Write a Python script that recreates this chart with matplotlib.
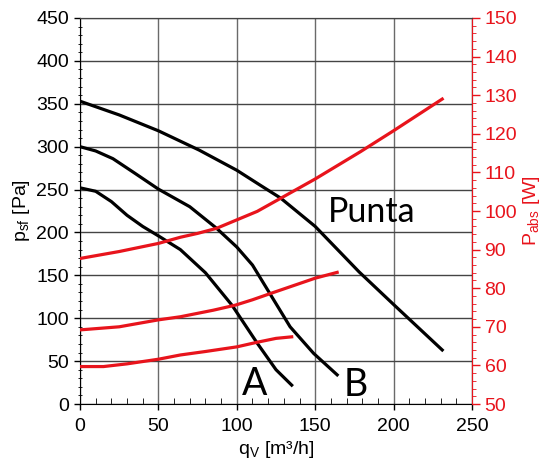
import matplotlib
matplotlib.use("Agg")
import matplotlib.pyplot as plt
from matplotlib.ticker import MultipleLocator

plt.rcParams['font.family'] = ['Liberation Sans', 'DejaVu Sans']

# Pressure curves (left axis, Pa)
q_A = [0, 10, 20, 30, 40, 50, 64, 80, 97, 113, 125, 135]
p_A = [252, 248, 236, 220, 207, 196, 180, 153, 115, 71, 40, 22]
q_B = [0, 10, 21, 35, 50, 70, 87, 100, 110, 121, 134, 149, 164]
p_B = [300, 295, 286, 269, 250.5, 230, 205, 183, 162, 129, 90, 59, 34]
q_P = [0, 25, 50, 76, 100, 115, 128, 150, 178, 200, 231]
p_P = [353, 337, 318.5, 296, 272.5, 255, 240, 207, 154, 116, 63]

# Power curves (right axis, W)
qw_P = [0, 25, 50, 64, 75, 87, 100, 113, 128, 150, 179, 200, 231]
w_P = [87.7, 89.5, 91.6, 93.2, 94.2, 95.5, 97.7, 99.9, 103.3, 108.3, 115.4, 120.8, 129]
qw_B = [0, 25, 50, 64, 85, 99, 110, 122, 150, 164]
w_B = [69.2, 70, 71.8, 72.6, 74.3, 75.6, 77, 78.7, 82.6, 84.1]
qw_A = [0, 15, 30, 50, 64, 80, 100, 113, 125, 135]
w_A = [59.7, 59.7, 60.4, 61.6, 62.7, 63.6, 64.8, 66, 67, 67.4]

labels = ["A", "B", "Punta"]
label_pos = [(111.3, 10.5), (175.7, 9.7), (186, 212)]
red = '#e8141c'

fig = plt.figure(figsize=(5.44, 4.61), dpi=100)
ax = fig.add_axes([80/544, 57/461, 392/544, 386/461])
ax2 = ax.twinx()

for q, p in [(q_A, p_A), (q_B, p_B), (q_P, p_P)]:
    ax.plot(q, p, color='black', lw=2.3, zorder=3, solid_joinstyle='round')
for q, w in [(qw_A, w_A), (qw_B, w_B), (qw_P, w_P)]:
    ax2.plot(q, w, color=red, lw=2.3, zorder=3, solid_joinstyle='round')

ax.set_xlim(0, 250)
ax.set_ylim(0, 450)
ax2.set_ylim(50, 150)

ax.xaxis.set_major_locator(MultipleLocator(50))
ax.xaxis.set_minor_locator(MultipleLocator(10))
ax.yaxis.set_major_locator(MultipleLocator(50))
ax.yaxis.set_minor_locator(MultipleLocator(10))
ax2.yaxis.set_major_locator(MultipleLocator(10))
ax2.yaxis.set_minor_locator(MultipleLocator(2))

ax.grid(True, which='major', axis='y', color='#444444', lw=1)
ax.grid(True, which='major', axis='x', color='#6a6a6a', lw=1)
ax.set_axisbelow(True)

ax.tick_params(axis='x', which='major', labelsize=14, length=4, direction='out', width=1, pad=6)
ax.tick_params(axis='y', which='major', labelsize=14, length=4, direction='out', width=1, pad=4)
ax.tick_params(axis='x', which='minor', length=4, direction='in')
ax.tick_params(axis='y', which='minor', length=3, direction='inout')
ax2.tick_params(axis='y', which='major', labelsize=14, length=6, direction='out', colors=red, width=1, pad=3)
ax2.tick_params(axis='y', which='minor', length=3, direction='out', colors=red)

ax2.spines['right'].set_color(red)
ax2.spines['top'].set_color('#444444')
ax.spines['top'].set_color('#444444')
for s in ['left', 'bottom']:
    ax.spines[s].set_color('black')
ax2.spines['left'].set_visible(False)
ax2.spines['bottom'].set_visible(False)

ax.set_xlabel(r'q$_\mathregular{V}$ [m³/h]', fontsize=14, labelpad=3)
ax.set_ylabel(r'p$_\mathregular{sf}$ [Pa]', fontsize=14, labelpad=3)
ax2.set_ylabel(r'P$_\mathregular{abs}$ [W]', fontsize=14, color=red, labelpad=3)

sizes = [27, 27, 24.5]
for lab, (x, y), fs in zip(labels, label_pos, sizes):
    ax.text(x, y, lab, fontsize=fs, family='Lato', ha='center', va='baseline')

fig.savefig('out.png', dpi=100)
